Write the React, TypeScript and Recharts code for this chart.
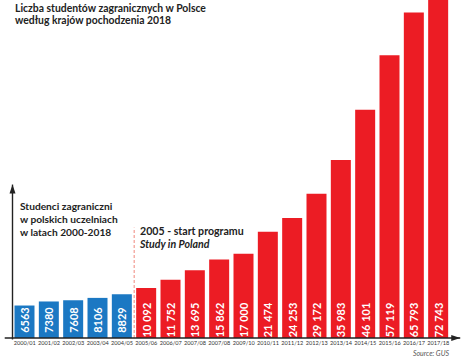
import React from 'react';
import { BarChart, Bar, XAxis, YAxis, Cell, LabelList, ReferenceLine } from 'recharts';

// years as printed on the source graphic (the 9th label repeats 2007/08 there)
const years = [
  '2000/01', '2001/02', '2002/03', '2003/04', '2004/05', '2005/06', '2006/07', '2007/08', '2007/08',
  '2009/10', '2010/11', '2011/12', '2012/13', '2013/14', '2014/15', '2015/16', '2016/17', '2017/18',
];
const students = [
  6563, 7380, 7608, 8106, 8829, 10092, 11752, 13695, 15862,
  17000, 21474, 24253, 29172, 35983, 46101, 57119, 65793, 72743,
];
const valueLabels = [
  '6563', '7380', '7608', '8106', '8829', '10 092', '11 752', '13 695', '15 862',
  '17 000', '21 474', '24 253', '29 172', '35 983', '46 101', '57 119', '65 793', '72 743',
];
const yTicks = [5200, 10400, 15600, 20800, 26000];
const programStartIndex = 5; // 2005/06

const BLUE = '#1b78c3';
const RED = '#ec1c24';
const DARK = '#222';

const data = students.map((v, i) => ({ idx: i, year: years[i], value: v, label: valueLabels[i] }));

const FONT = 'Lato, "Open Sans", sans-serif';

const ValueLabel = (props: any) => {
  const { x, width, y, height, index } = props;
  const cx = x + width / 2;
  const cy = y + height - 18;
  return (
    <text
      x={cx}
      y={cy}
      transform={`rotate(-90 ${cx} ${cy})`}
      textAnchor="middle"
      dominantBaseline="central"
      fill="#fff"
      fontFamily={FONT}
      fontWeight={700}
      fontSize={11}
    >
      {data[index].label}
    </text>
  );
};

const arrowLine = (dir: 'up' | 'right') => (props: any) => {
  const { x1, y1, x2, y2 } = props;
  const tip = dir === 'up' ? `M${x2 - 3},${y2 + 9} L${x2},${y2} L${x2 + 3},${y2 + 9} Z` : `M${x2 - 9},${y2 - 3} L${x2},${y2} L${x2 - 9},${y2 + 3} Z`;
  return (
    <g>
      <line x1={x1} y1={y1} x2={x2} y2={y2} stroke={DARK} strokeWidth={1.4} />
      <path d={tip} fill={DARK} />
    </g>
  );
};

const App: React.FC = () => {
  return (
    <div style={{ position: 'absolute', left: 0, top: 0, width: 465, height: 358, background: '#fff', fontFamily: FONT }}>
      <BarChart
        width={465}
        height={358}
        data={data}
        margin={{ top: 0, right: 14.5, left: 12.5, bottom: 0 }}
      >
        <XAxis
          dataKey="idx"
          type="number"
          domain={[-0.5, 17.5]}
          ticks={data.map(d => d.idx)}
          tickFormatter={(v: number) => years[v]}
          axisLine={false}
          tickLine={false}
          interval={0}
          height={20}
          tick={{ fontSize: 5.6, fill: '#333', fontFamily: FONT }}
          tickMargin={-3}
        />
        <YAxis
          type="number"
          domain={[0, 68300]}
          allowDataOverflow
          width={0}
          ticks={yTicks}
          axisLine={false}
          tick={false}
          tickLine={{ stroke: DARK, strokeWidth: 1.2 }}
          tickSize={4}
        />
        <Bar dataKey="value" barSize={20} isAnimationActive={false}>
          {data.map((d, i) => (
            <Cell key={i} fill={i < programStartIndex ? BLUE : RED} />
          ))}
          <LabelList dataKey="value" content={<ValueLabel />} />
        </Bar>
        <ReferenceLine
          segment={[{ x: programStartIndex - 0.5, y: 0 }, { x: programStartIndex - 0.5, y: 22300 }]}
          stroke="#f0867c"
          strokeDasharray="3 2"
          strokeWidth={1}
          ifOverflow="visible"
        />
        <ReferenceLine
          segment={[{ x: -0.82, y: 0 }, { x: 17.9, y: 0 }]}
          ifOverflow="visible"
          shape={arrowLine('right')}
        />
        <ReferenceLine
          segment={[{ x: -0.5, y: -300 }, { x: -0.5, y: 31000 }]}
          ifOverflow="visible"
          shape={arrowLine('up')}
        />
      </BarChart>

      <div style={{ position: 'absolute', left: 15, top: 3, fontSize: 10.4, fontWeight: 700, color: DARK, lineHeight: '11.5px' }}>
        Liczba studentów zagranicznych w Polsce
        <br />
        według krajów pochodzenia 2018
      </div>
      <div style={{ position: 'absolute', left: 20, top: 200, fontSize: 10.2, fontWeight: 700, color: DARK, lineHeight: '13px' }}>
        Studenci zagraniczni
        <br />
        w polskich uczelniach
        <br />
        w latach 2000-2018
      </div>
      <div style={{ position: 'absolute', left: 140, top: 225, fontSize: 10.6, fontWeight: 700, color: DARK, lineHeight: '13px' }}>
        2005 - start programu
        <br />
        <i>Study in Poland</i>
      </div>
      <div style={{ position: 'absolute', right: 16, top: 349, fontSize: 7, lineHeight: '8px', fontStyle: 'italic', color: '#555' }}>
        Source: GUS
      </div>
    </div>
  );
};

export default App;
